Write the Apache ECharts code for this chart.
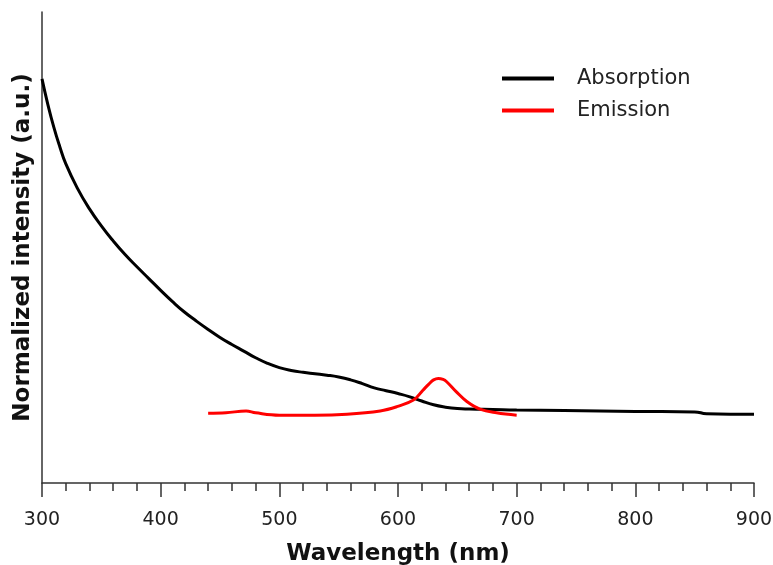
<!DOCTYPE html>
<html lang="en">
    <head>
        <meta charset="utf-8">
        <title>absorption-emission</title>
        <script src="https://cdn.jsdelivr.net/npm/echarts@6/dist/echarts.min.js"></script>
        <style>
            body { margin: 0; background: #fff; }
            #main { width: 773px; height: 565px; }
        </style>
    </head>
    <body>
        <div id="main"></div>
        <script>
            // wavelength (nm) and normalized intensity
            var absWave = [300, 305, 310, 315, 320, 330, 340, 350, 360, 370, 380, 390, 400, 410, 420, 430, 440, 450, 460, 470, 480, 490, 500, 510, 520, 530, 540, 550, 560, 570, 580, 590, 600, 610, 620, 630, 640, 650, 660, 680, 700, 740, 770, 800, 850, 860, 880, 900]
            var absVal = [0.858, 0.803, 0.755, 0.714, 0.678, 0.625, 0.582, 0.546, 0.514, 0.485, 0.459, 0.434, 0.409, 0.385, 0.363, 0.344, 0.326, 0.309, 0.294, 0.280, 0.266, 0.254, 0.245, 0.239, 0.235, 0.232, 0.229, 0.225, 0.219, 0.211, 0.202, 0.196, 0.190, 0.183, 0.174, 0.166, 0.161, 0.158, 0.157, 0.156, 0.155, 0.154, 0.153, 0.152, 0.151, 0.147, 0.146, 0.146]
            var emWave = [440, 455, 472, 480, 500, 530, 557, 585, 599, 613, 621, 626, 630, 634, 638, 641, 649, 658, 669, 683, 700]
            var emVal = [0.148, 0.149, 0.153, 0.149, 0.144, 0.144, 0.146, 0.153, 0.162, 0.176, 0.197, 0.210, 0.219, 0.222, 0.220, 0.215, 0.194, 0.173, 0.157, 0.149, 0.144]
            var seriesNames = ['Absorption', 'Emission']

            var pairs = function(xs, ys) {
                var out = []
                for (var i = 0; i < xs.length; i++) {
                    out.push([xs[i], ys[i]])
                }
                return out
            }

            var myChart = echarts.init(document.querySelector('#main'))
            var font = 'DejaVu Sans'
            var option = {
                animation: false,
                grid: { left: 42, right: 19, top: 12, bottom: 82, outerBoundsMode: 'none' },
                legend: {
                    orient: 'vertical',
                    left: 497,
                    top: 63,
                    itemWidth: 52,
                    itemHeight: 4,
                    itemGap: 11,
                    icon: 'rect',
                    textStyle: { fontFamily: font, fontSize: 21, color: '#222', padding: [0, 0, 0, 18] },
                    data: seriesNames
                },
                xAxis: {
                    type: 'value',
                    min: 300,
                    max: 900,
                    interval: 100,
                    name: 'Wavelength (nm)',
                    nameLocation: 'middle',
                    nameGap: 60,
                    nameTextStyle: { fontFamily: font, fontSize: 23, fontWeight: 'bold', color: '#111' },
                    axisLine: { lineStyle: { color: '#333', width: 1.5 } },
                    axisTick: { length: 14, lineStyle: { color: '#333', width: 1.5 } },
                    minorTick: { show: true, splitNumber: 5, length: 8, lineStyle: { color: '#333', width: 1.5 } },
                    axisLabel: { margin: 28, fontFamily: font, fontSize: 19, color: '#222' },
                    splitLine: { show: false }
                },
                yAxis: {
                    type: 'value',
                    min: 0,
                    max: 1,
                    name: 'Normalized intensity (a.u.)',
                    nameLocation: 'middle',
                    nameGap: 7,
                    nameTextStyle: { fontFamily: font, fontSize: 23, fontWeight: 'bold', color: '#111' },
                    axisLine: { show: true, lineStyle: { color: '#333', width: 1.5 } },
                    axisTick: { show: false },
                    axisLabel: { show: false },
                    splitLine: { show: false }
                },
                series: [
                    {
                        name: seriesNames[0],
                        type: 'line',
                        smooth: 0.5,
                        showSymbol: false,
                        color: '#000',
                        lineStyle: { width: 3, color: '#000' },
                        data: pairs(absWave, absVal)
                    },
                    {
                        name: seriesNames[1],
                        type: 'line',
                        smooth: 0.4,
                        showSymbol: false,
                        color: '#ff0000',
                        lineStyle: { width: 3, color: '#ff0000' },
                        data: pairs(emWave, emVal)
                    }
                ]
            }
            myChart.setOption(option)
        </script>
    </body>
</html>
